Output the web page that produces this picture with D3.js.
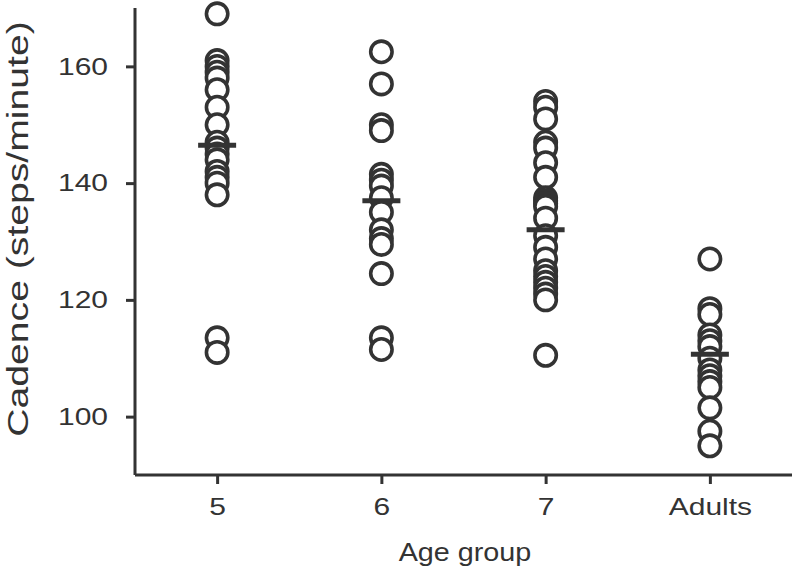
<!DOCTYPE html>
<html><head><meta charset="utf-8">
<script src="https://cdn.jsdelivr.net/npm/d3@7"></script>
<style>body{margin:0;background:#fff}svg{display:block}text{font-family:"Liberation Sans",Arial,sans-serif;fill:#333}</style>
</head><body><svg id="c" width="800" height="570"></svg>
<script>
const categories = ["5", "6", "7", "Adults"];
const age5 = [169, 161, 160, 159, 158, 156, 153, 150, 147, 146, 145, 144, 142, 141, 140, 138, 113.5, 111];
const age6 = [162.5, 157, 150, 149, 141.5, 140.5, 139.5, 137.5, 135, 132, 130.5, 129.5, 124.5, 113.5, 111.5];
const age7 = [154, 153, 151, 147, 146, 143.5, 141, 137.5, 137, 136.5, 136, 134, 131, 129, 127, 125, 124, 123, 122, 121, 120, 110.5];
const adults = [127, 118.5, 117.5, 114, 113, 112, 110, 108, 107, 106, 105, 101.5, 97.5, 95];
const groupValues = [age5, age6, age7, adults];
const means = [146.5, 137, 132, 110.7];
const yTicks = [100, 120, 140, 160];
const yDomain = [90, 170];

(function () {
const svg = d3.select("#c");
const mLeft = 135, mRight = 792, mTop = 8, mBottom = 475;
const ink = "#333";
const stretch = 1.25;
const x = d3.scalePoint().domain(categories).range([mLeft, mRight]).padding(0.5);
const y = d3.scaleLinear().domain(yDomain).range([mBottom, mTop]);

const ya = svg.append("g").attr("transform", `translate(${mLeft},0)`)
  .call(d3.axisLeft(y).tickValues(yTicks).tickSize(9).tickPadding(21).tickFormat(d3.format("d")));
const xa = svg.append("g").attr("transform", `translate(0,${mBottom})`)
  .call(d3.axisBottom(x).tickSize(9).tickPadding(14));
[ya, xa].forEach(g => {
  g.selectAll(".domain").attr("stroke", ink).attr("stroke-width", 3);
  g.selectAll(".tick line").attr("stroke", ink).attr("stroke-width", 3);
  g.selectAll(".tick text").attr("fill", ink).style("font-size", "24px")
    .style("font-family", '"Liberation Sans",Arial,sans-serif');
});
ya.selectAll(".tick text").attr("x", -27 / stretch).attr("transform", `scale(${stretch},1)`);
xa.selectAll(".tick text").attr("transform", `scale(${stretch},1)`);
ya.select(".domain").attr("d", `M0,${mTop}V${mBottom}`);
xa.select(".domain").attr("d", `M${mLeft},0H${mRight}`);

categories.forEach((c, i) => {
  svg.append("g").selectAll("circle").data(groupValues[i]).join("circle")
    .attr("cx", x(c)).attr("cy", d => y(d)).attr("r", 10.7)
    .attr("fill", "#fff").attr("stroke", ink).attr("stroke-width", 3.6);
});

svg.append("g").selectAll("line").data(means).join("line")
  .attr("x1", (d, i) => x(categories[i]) - 19).attr("x2", (d, i) => x(categories[i]) + 19)
  .attr("y1", d => y(d)).attr("y2", d => y(d))
  .attr("stroke", ink).attr("stroke-width", 5);

svg.append("text").attr("transform", "translate(465,561) scale(1.15,1)").attr("text-anchor", "middle")
  .style("font-size", "25px").text("Age group");
svg.append("text").attr("transform", "translate(28,229) rotate(-90) scale(1.35,1)").attr("text-anchor", "middle")
  .style("font-size", "29px").text("Cadence (steps/minute)");
})();
</script></body></html>
